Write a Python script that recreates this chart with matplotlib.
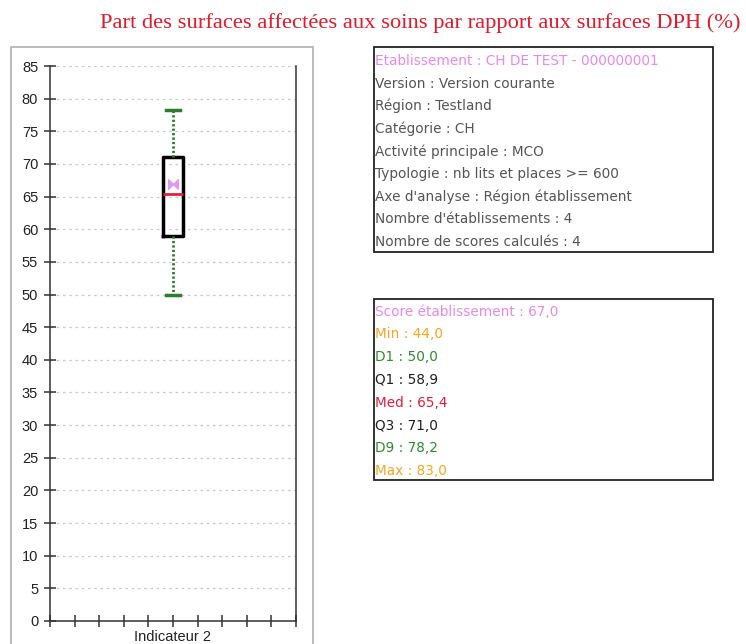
import matplotlib
matplotlib.use("Agg")
import matplotlib.pyplot as plt
from matplotlib.patches import Rectangle
from matplotlib.path import Path

title = "Part des surfaces affectées aux soins par rapport aux surfaces DPH (%)"
category = "Indicateur 2"
score = 67.0
vmin = 44.0
d1 = 50.0
q1 = 58.9
med = 65.4
q3 = 71.0
d9 = 78.2
vmax = 83.0
yticks = list(range(0, 90, 5))

info_lines = [
    ("Etablissement : CH DE TEST - 000000001", "#e58ae5"),
    ("Version : Version courante", "#555555"),
    ("Région : Testland", "#555555"),
    ("Catégorie : CH", "#555555"),
    ("Activité principale : MCO", "#555555"),
    ("Typologie : nb lits et places >= 600", "#555555"),
    ("Axe d'analyse : Région établissement", "#555555"),
    ("Nombre d'établissements : 4", "#555555"),
    ("Nombre de scores calculés : 4", "#555555"),
]
fmt = lambda v: f"{v:.1f}".replace(".", ",")
stat_lines = [
    (f"Score établissement : {fmt(score)}", "#e58ae5"),
    (f"Min : {fmt(vmin)}", "#f5a623"),
    (f"D1 : {fmt(d1)}", "#2e8b2e"),
    (f"Q1 : {fmt(q1)}", "#202020"),
    (f"Med : {fmt(med)}", "#e0203a"),
    (f"Q3 : {fmt(q3)}", "#202020"),
    (f"D9 : {fmt(d9)}", "#2e8b2e"),
    (f"Max : {fmt(vmax)}", "#f5a623"),
]

W, H = 746, 644
fig = plt.figure(figsize=(W / 100, H / 100), dpi=100)
fig.patch.set_facecolor("white")

def fx(px):
    return px / W

def fy(py):
    return 1 - py / H

# outer frame around chart
fig.patches.append(Rectangle((fx(11), fy(660)), fx(313) - fx(11), fy(47) - fy(660),
                             transform=fig.transFigure, fill=False,
                             edgecolor="#b0b0b0", linewidth=1.2, clip_on=False))

ax = fig.add_axes([fx(50), fy(621), fx(296) - fx(50), fy(66) - fy(621)])
ax.set_xlim(0, 10)
ax.set_ylim(0, 85)
ax.set_yticks(yticks)
ax.set_xticks(range(0, 11))
ax.set_xticklabels([""] * 11)
ax.tick_params(axis="both", direction="inout", length=9, width=1.1, color="#333333",
               labelsize=10.5, labelcolor="#222222")
ax.tick_params(axis="y", pad=4)
for lab in ax.get_yticklabels():
    lab.set_fontfamily("Liberation Sans")
ax.spines["top"].set_visible(False)
for s in ["left", "bottom", "right"]:
    ax.spines[s].set_color("#333333")
    ax.spines[s].set_linewidth(1.1)
for y in yticks[1:]:
    ax.axhline(y, color="#c8c8c8", linestyle=(0, (2, 3)), linewidth=0.9, zorder=0)

stats = [dict(med=med, q1=q1, q3=q3, whislo=d1, whishi=d9, fliers=[], label="")]
ax.bxp(stats, positions=[5], widths=0.85, showfliers=False,
       boxprops=dict(color="black", linewidth=2.5),
       medianprops=dict(color="#e0203a", linewidth=2),
       whiskerprops=dict(color="#2e7d2e", linewidth=2, linestyle=(0, (0.8, 0.8))),
       capprops=dict(color="#2e7d2e", linewidth=2.5),
       capwidths=0.55, manage_ticks=False)

bowtie = Path([(-1, 1), (0, 0), (-1, -1), (-1, 1), (1, 1), (0, 0), (1, -1), (1, 1)],
              [Path.MOVETO, Path.LINETO, Path.LINETO, Path.CLOSEPOLY,
               Path.MOVETO, Path.LINETO, Path.LINETO, Path.CLOSEPOLY])
ax.plot([5], [score], marker=bowtie, markersize=7, color="#dd99ee",
        markeredgecolor="#dd99ee", linestyle="none", zorder=5)

fig.text(fx(173), fy(637), category, ha="center", va="center", fontsize=10.5,
         family="Liberation Sans", color="#222222")

fig.text(fx(420), fy(23), title, ha="center", va="center", fontsize=16.2,
         family="Liberation Serif", color="#e01b2c")

def info_box(x0, y0, x1, y1, lines, first_y, step):
    fig.patches.append(Rectangle((fx(x0), fy(y1)), fx(x1) - fx(x0), fy(y0) - fy(y1),
                                 transform=fig.transFigure, fill=False,
                                 edgecolor="#222222", linewidth=1.3))
    for i, (t, c) in enumerate(lines):
        fig.text(fx(x0 + 1), fy(first_y + i * step), t, ha="left", va="center",
                 fontsize=9.85, family="DejaVu Sans", color=c)

info_box(374, 47, 713, 252, info_lines, 61, 22.6)
info_box(374, 299, 713, 480, stat_lines, 311.5, 22.8)

fig.savefig("out.png", dpi=100)
